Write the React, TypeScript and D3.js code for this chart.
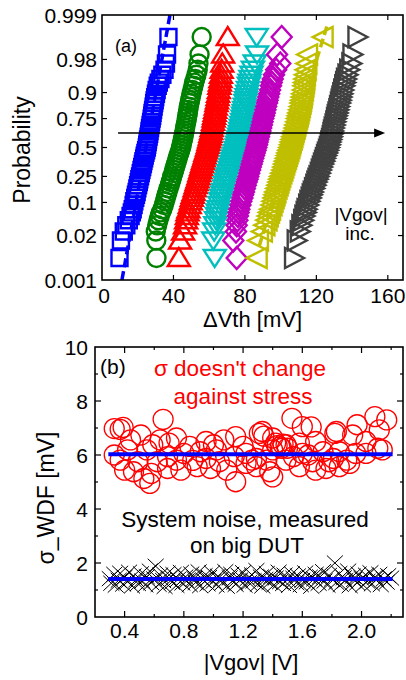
import { useEffect, useRef } from "react";
import * as d3 from "d3";

// ---------- panel (a): cumulative probability plot of dVth ----------
const probLevels = [0.005, 0.015, 0.025, 0.035, 0.045, 0.055, 0.065, 0.075, 0.09, 0.105, 0.12, 0.135, 0.15, 0.17, 0.19, 0.21, 0.23, 0.25, 0.275, 0.3, 0.325, 0.35, 0.375, 0.4, 0.425, 0.45, 0.475, 0.5, 0.525, 0.55, 0.575, 0.6, 0.625, 0.65, 0.675, 0.7, 0.725, 0.75, 0.77, 0.79, 0.81, 0.83, 0.85, 0.865, 0.88, 0.895, 0.91, 0.925, 0.935, 0.945, 0.955, 0.965, 0.975, 0.985, 0.995];

const dvthBlue = [9.8, 10.6, 12.2, 13.6, 15.0, 16.0, 16.7, 17.2, 17.7, 18.1, 18.6, 19.0, 19.4, 19.8, 20.2, 20.6, 20.9, 21.3, 21.7, 22.1, 22.5, 22.9, 23.2, 23.6, 23.9, 24.3, 24.7, 25.1, 25.3, 25.6, 25.8, 26.1, 26.4, 26.6, 26.9, 27.2, 27.5, 27.8, 28.1, 28.3, 28.6, 28.9, 29.2, 29.5, 29.8, 30.2, 30.6, 31.2, 31.8, 32.7, 33.8, 35.0, 35.8, 36.4, 37.2];
const dvthGreen = [30.5, 30.4, 30.1, 30.9, 31.6, 32.3, 33.0, 33.8, 34.6, 35.2, 35.7, 36.2, 36.7, 37.3, 37.9, 38.4, 38.9, 39.3, 39.9, 40.4, 40.9, 41.4, 41.9, 42.4, 42.8, 43.3, 43.8, 44.3, 44.6, 44.9, 45.3, 45.6, 45.9, 46.2, 46.5, 46.8, 47.2, 47.5, 47.8, 48.0, 48.3, 48.6, 49.0, 49.3, 49.7, 50.1, 50.6, 51.2, 51.6, 52.2, 52.9, 53.6, 54.0, 54.6, 55.8];
const dvthRed = [43.0, 43.7, 45.4, 46.5, 47.1, 47.5, 47.9, 48.4, 49.1, 49.7, 50.3, 50.8, 51.3, 51.9, 52.5, 53.0, 53.5, 54.0, 54.5, 55.0, 55.5, 56.0, 56.5, 57.0, 57.5, 57.9, 58.4, 58.8, 59.3, 59.6, 60.0, 60.4, 60.7, 61.1, 61.4, 61.8, 62.2, 62.5, 62.8, 63.1, 63.4, 63.7, 64.1, 64.4, 64.7, 65.0, 65.4, 65.7, 66.0, 66.3, 66.6, 67.0, 67.3, 67.8, 70.4];
const dvthCyan = [63.1, 62.3, 62.8, 63.4, 63.9, 64.3, 64.7, 65.2, 65.8, 66.4, 66.9, 67.4, 67.8, 68.4, 68.9, 69.4, 69.9, 70.3, 70.8, 71.4, 71.9, 72.4, 72.9, 73.4, 73.9, 74.4, 74.9, 75.4, 75.7, 76.1, 76.4, 76.8, 77.1, 77.4, 77.7, 78.0, 78.4, 78.7, 79.0, 79.3, 79.6, 79.9, 80.3, 80.6, 80.9, 81.3, 81.7, 82.2, 82.6, 83.1, 83.7, 84.5, 85.5, 86.8, 86.6];
const dvthMagenta = [75.4, 73.5, 75.0, 75.4, 75.8, 76.1, 76.5, 76.9, 77.5, 78.0, 78.6, 79.0, 79.5, 80.0, 80.5, 81.0, 81.5, 81.9, 82.4, 82.9, 83.3, 83.8, 84.2, 84.7, 85.1, 85.5, 86.0, 86.4, 86.8, 87.1, 87.4, 87.9, 88.3, 88.7, 89.1, 89.5, 89.9, 90.3, 90.7, 91.1, 91.5, 91.9, 92.4, 92.7, 93.1, 93.6, 94.1, 94.6, 95.0, 95.6, 96.3, 97.5, 99.8, 98.0, 100.6];
const dvthYellow = [86.6, 87.3, 89.5, 90.9, 92.1, 92.8, 93.5, 94.1, 94.9, 95.5, 96.1, 96.6, 97.1, 97.7, 98.3, 98.8, 99.3, 99.8, 100.4, 101.0, 101.5, 102.0, 102.5, 103.0, 103.5, 103.9, 104.4, 104.9, 105.3, 105.7, 106.2, 106.6, 107.0, 107.4, 107.9, 108.3, 108.8, 109.2, 109.6, 110.0, 110.4, 110.8, 111.2, 111.5, 111.8, 112.1, 112.5, 112.8, 113.1, 113.3, 113.6, 114.0, 114.4, 114.8, 123.5];
const dvthGrey = [107.5, 109.0, 110.7, 111.6, 112.6, 113.3, 114.0, 114.5, 115.4, 116.1, 116.8, 117.4, 118.0, 118.7, 119.4, 120.0, 120.6, 121.2, 121.9, 122.5, 123.1, 123.7, 124.3, 124.8, 125.4, 125.9, 126.5, 127.0, 127.5, 127.8, 128.2, 128.6, 129.0, 129.3, 129.7, 130.2, 130.6, 131.0, 131.4, 131.8, 132.3, 132.7, 133.2, 133.6, 134.0, 134.5, 135.0, 135.6, 136.1, 136.6, 137.4, 138.4, 139.6, 140.2, 143.0];

const probTicks = [0.001, 0.02, 0.1, 0.25, 0.5, 0.75, 0.9, 0.98, 0.999];
const dvthTicks = [0, 40, 80, 120, 160];

// dashed normal fits: mean, sigma, z-range drawn
const fitBlue = { mu: 24.6, sigma: 4.35, z0: -3.09, z1: 3.09 };
const fitYellow = { mu: 105, sigma: 7.4, z0: -2.3, z1: 2.82 };

const arrowProb = 0.632;
const arrowDvth = [9, 158.5];

// ---------- panel (b): sigma vs |Vgov| ----------
const sigmaPts: [number, number][] = [
  [0.33, 6.98], [0.37, 6.95], [0.39, 7.02], [0.33, 6.0], [0.37, 5.81], [0.4, 5.44], [0.42, 6.19], [0.44, 6.56],
  [0.46, 5.38], [0.49, 5.75], [0.51, 6.74], [0.53, 5.13], [0.55, 6.19], [0.57, 4.95], [0.58, 5.32], [0.59, 6.38],
  [0.62, 5.75], [0.64, 6.56], [0.66, 7.32], [0.69, 5.94], [0.69, 5.5], [0.7, 6.44], [0.75, 6.63], [0.75, 5.81],
  [0.78, 5.44], [0.8, 6.06], [0.84, 6.32], [0.86, 5.8], [0.89, 5.57], [0.91, 6.12], [0.95, 6.5], [0.95, 5.87],
  [0.98, 5.5], [1.0, 6.38], [1.02, 6.19], [1.04, 5.75], [1.07, 6.56], [1.09, 5.44], [1.14, 5.94], [1.15, 6.68],
  [1.15, 5.01], [1.2, 6.32], [1.22, 6.06], [1.22, 5.69], [1.26, 5.81], [1.29, 5.87], [1.29, 5.57], [1.31, 6.8],
  [1.33, 6.87], [1.34, 6.7], [1.36, 5.81], [1.38, 5.38], [1.4, 6.19], [1.4, 5.19], [1.4, 6.63], [1.42, 6.44],
  [1.43, 6.35], [1.45, 6.3], [1.46, 6.25], [1.47, 6.4], [1.49, 6.38], [1.49, 5.81], [1.5, 6.25], [1.53, 7.36],
  [1.54, 5.94], [1.58, 6.44], [1.58, 5.57], [1.6, 7.05], [1.6, 6.06], [1.64, 6.0], [1.66, 7.04], [1.67, 5.75],
  [1.69, 6.5], [1.69, 5.44], [1.74, 6.12], [1.76, 5.5], [1.78, 5.75], [1.81, 5.87], [1.82, 6.8], [1.83, 6.87],
  [1.85, 6.12], [1.85, 5.57], [1.9, 5.81], [1.92, 5.69], [1.94, 6.74], [1.96, 6.06], [1.97, 7.12], [2.03, 6.5],
  [2.03, 6.06], [2.09, 7.42], [2.11, 6.25], [2.12, 6.93], [2.14, 6.19], [2.17, 7.3],
];
const noisePts: [number, number][] = [
  [0.3, 1.42], [0.31, 1.25], [0.33, 1.58], [0.34, 1.18], [0.36, 1.36], [0.37, 1.62], [0.39, 1.22], [0.4, 1.47],
  [0.42, 1.31], [0.43, 1.66], [0.45, 1.15], [0.46, 1.52], [0.48, 1.38], [0.49, 1.24], [0.51, 1.6], [0.52, 1.33],
  [0.54, 1.19], [0.55, 1.49], [0.57, 1.7], [0.58, 1.27], [0.6, 1.41], [0.61, 1.88], [0.63, 1.21], [0.64, 1.55],
  [0.66, 1.35], [0.67, 1.13], [0.69, 1.62], [0.7, 1.44], [0.72, 1.29], [0.73, 1.57], [0.75, 1.17], [0.76, 1.39],
  [0.78, 1.65], [0.79, 1.26], [0.81, 1.48], [0.82, 1.34], [0.84, 1.2], [0.85, 1.59], [0.87, 1.43], [0.88, 1.28],
  [0.9, 1.67], [0.91, 1.16], [0.93, 1.37], [0.94, 1.53], [0.96, 1.23], [0.97, 1.46], [0.99, 1.63], [1.0, 1.32],
  [1.02, 1.19], [1.03, 1.51], [1.05, 1.4], [1.06, 1.26], [1.08, 1.68], [1.09, 1.14], [1.11, 1.45], [1.12, 1.58],
  [1.14, 1.3], [1.15, 1.21], [1.17, 1.54], [1.18, 1.37], [1.2, 1.64], [1.21, 1.18], [1.23, 1.42], [1.24, 1.27],
  [1.26, 1.56], [1.27, 1.34], [1.29, 1.72], [1.3, 1.22], [1.32, 1.48], [1.33, 1.15], [1.35, 1.39], [1.36, 1.61],
  [1.38, 1.29], [1.39, 1.5], [1.41, 1.19], [1.42, 1.44], [1.44, 1.66], [1.45, 1.31], [1.47, 1.24], [1.48, 1.55],
  [1.5, 1.38], [1.51, 1.17], [1.53, 1.6], [1.54, 1.43], [1.56, 1.27], [1.57, 1.52], [1.59, 1.2], [1.6, 1.36],
  [1.62, 1.63], [1.63, 1.3], [1.65, 1.47], [1.66, 1.14], [1.68, 1.41], [1.69, 1.58], [1.71, 1.25], [1.72, 1.49],
  [1.74, 1.68], [1.75, 1.33], [1.77, 1.18], [1.78, 1.54], [1.8, 1.4], [1.82, 2.0], [1.83, 1.28], [1.85, 1.61],
  [1.86, 1.21], [1.88, 1.45], [1.89, 1.35], [1.91, 1.7], [1.92, 1.16], [1.94, 1.51], [1.95, 1.39], [1.97, 1.26],
  [1.98, 1.59], [2.0, 1.43], [2.01, 1.19], [2.03, 1.55], [2.04, 1.32], [2.06, 1.64], [2.07, 1.23], [2.09, 1.47],
  [2.1, 1.37], [2.12, 1.58], [2.13, 1.2], [2.15, 1.41], [2.17, 1.29], [2.18, 1.53], [2.2, 1.44],
];
const sigmaMean = 6.03;
const noiseMean = 1.41;
const meanVgov = [0.29, 2.21];

const vgovTicks = [0.4, 0.8, 1.2, 1.6, 2.0];
const vgovMinor = [0.6, 1.0, 1.4, 1.8, 2.2];
const sigmaTicks = [0, 2, 4, 6, 8, 10];
const sigmaMinor = [1, 3, 5, 7, 9];

const series = [
  { values: dvthBlue, color: "#0000ff", marker: "square" },
  { values: dvthGreen, color: "#008000", marker: "circle" },
  { values: dvthRed, color: "#ff0000", marker: "up" },
  { values: dvthCyan, color: "#00bfbf", marker: "down" },
  { values: dvthMagenta, color: "#bf00bf", marker: "diamond" },
  { values: dvthYellow, color: "#bfbf00", marker: "left" },
  { values: dvthGrey, color: "#404040", marker: "right" },
];

const markerPath: Record<string, string> = {
  square: "M-8,-8H8V8H-8Z",
  circle: "M9,0A9,9 0 1,1 -9,0A9,9 0 1,1 9,0Z",
  up: "M0,-10L11,8L-11,8Z",
  down: "M0,9L11,-8L-11,-8Z",
  diamond: "M0,-11L10,0L0,11L-10,0Z",
  left: "M-10,0L10,-10L10,10Z",
  right: "M10,0L-9,-10L-9,10Z",
};

// inverse normal CDF (Acklam)
function probit(p: number) {
  const a = [-39.69683028665376, 220.9460984245205, -275.9285104469687, 138.357751867269, -30.66479806614716, 2.506628277459239];
  const b = [-54.47609879822406, 161.5858368580409, -155.6989798598866, 66.80131188771972, -13.28068155288572];
  const c = [-0.007784894002430293, -0.3223964580411365, -2.400758277161838, -2.549671348086381, 4.374664141464968, 2.938163982698783];
  const d = [0.007784695709041462, 0.3224671290700398, 2.445134137142996, 3.754408661907416];
  const lo = 0.02425;
  if (p < lo) {
    const q = Math.sqrt(-2 * Math.log(p));
    return (((((c[0] * q + c[1]) * q + c[2]) * q + c[3]) * q + c[4]) * q + c[5]) / ((((d[0] * q + d[1]) * q + d[2]) * q + d[3]) * q + 1);
  }
  if (p > 1 - lo) {
    const q = Math.sqrt(-2 * Math.log(1 - p));
    return -(((((c[0] * q + c[1]) * q + c[2]) * q + c[3]) * q + c[4]) * q + c[5]) / ((((d[0] * q + d[1]) * q + d[2]) * q + d[3]) * q + 1);
  }
  const q = p - 0.5, r = q * q;
  return (((((a[0] * r + a[1]) * r + a[2]) * r + a[3]) * r + a[4]) * r + a[5]) * q / (((((b[0] * r + b[1]) * r + b[2]) * r + b[3]) * r + b[4]) * r + 1);
}

const FONT = "'Liberation Sans', Arial, sans-serif";

const App = () => {
  const svgRef = useRef<SVGSVGElement>(null);

  useEffect(() => {
    if (!svgRef.current) return;
    document.body.style.margin = "0";
    const svg = d3.select(svgRef.current);
    svg.selectAll("*").remove();
    svg.attr("font-family", FONT);

    // ================= (a) =================
    const A = { l: 102, r: 403, t: 15, b: 280 };
    const x = d3.scaleLinear().domain([0, 168.5]).range([A.l, A.r]);
    const z = d3.scaleLinear().domain([probit(0.001), probit(0.999)]).range([A.b, A.t]);
    const yP = (p: number) => z(probit(p));

    svg.append("clipPath").attr("id", "clipA").append("rect")
      .attr("x", A.l).attr("y", A.t).attr("width", A.r - A.l).attr("height", A.b - A.t);

    const ga = svg.append("g").attr("clip-path", "url(#clipA)");
    series.forEach(s => {
      ga.append("g").selectAll("path")
        .data(s.values)
        .join("path")
        .attr("d", markerPath[s.marker])
        .attr("transform", (v, i) => `translate(${x(v)},${yP(probLevels[i])})`)
        .attr("fill", "none")
        .attr("stroke", s.color)
        .attr("stroke-width", 2.4);
    });

    [{ f: fitBlue, c: "#0000ff" }, { f: fitYellow, c: "#bfbf00" }].forEach(({ f, c }) => {
      ga.append("line")
        .attr("x1", x(f.mu + f.sigma * f.z0)).attr("y1", z(f.z0))
        .attr("x2", x(f.mu + f.sigma * f.z1)).attr("y2", z(f.z1))
        .attr("stroke", c).attr("stroke-width", 3.5).attr("stroke-dasharray", "9,4");
    });

    // arrow
    const ay = yP(arrowProb);
    svg.append("line")
      .attr("x1", x(arrowDvth[0])).attr("x2", x(arrowDvth[1]) - 8)
      .attr("y1", ay).attr("y2", ay)
      .attr("stroke", "#000").attr("stroke-width", 1.5);
    const tip = x(arrowDvth[1]);
    svg.append("path")
      .attr("d", `M${tip},${ay}L${tip - 11},${ay - 4.5}L${tip - 11},${ay + 4.5}Z`)
      .attr("fill", "#000");

    // frame + ticks
    svg.append("rect")
      .attr("x", A.l).attr("y", A.t).attr("width", A.r - A.l).attr("height", A.b - A.t)
      .attr("fill", "none").attr("stroke", "#000").attr("stroke-width", 1.6);

    probTicks.slice(1, -1).forEach(p => {
      svg.append("line").attr("x1", A.l).attr("x2", A.l + 5).attr("y1", yP(p)).attr("y2", yP(p)).attr("stroke", "#000").attr("stroke-width", 1.2);
      svg.append("line").attr("x1", A.r - 5).attr("x2", A.r).attr("y1", yP(p)).attr("y2", yP(p)).attr("stroke", "#000").attr("stroke-width", 1.2);
    });
    dvthTicks.slice(1).forEach(v => {
      svg.append("line").attr("x1", x(v)).attr("x2", x(v)).attr("y1", A.b).attr("y2", A.b - 5).attr("stroke", "#000").attr("stroke-width", 1.2);
      svg.append("line").attr("x1", x(v)).attr("x2", x(v)).attr("y1", A.t).attr("y2", A.t + 5).attr("stroke", "#000").attr("stroke-width", 1.2);
    });

    svg.append("g").selectAll("text")
      .data(probTicks)
      .join("text")
      .attr("x", A.l - 5)
      .attr("y", d => yP(d))
      .attr("dy", "0.36em")
      .attr("text-anchor", "end")
      .attr("font-size", "21px")
      .text(d => String(d));

    svg.append("g").selectAll("text")
      .data(dvthTicks)
      .join("text")
      .attr("x", d => x(d) + (d === 0 ? 2 : 0))
      .attr("y", A.b + 23)
      .attr("text-anchor", "middle")
      .attr("font-size", "21px")
      .text(d => String(d));

    svg.append("text")
      .attr("x", (A.l + A.r) / 2).attr("y", 327)
      .attr("text-anchor", "middle").attr("font-size", "22px")
      .text("\u0394Vth [mV]");

    svg.append("text")
      .attr("transform", "translate(30,150) rotate(-90)")
      .attr("text-anchor", "middle").attr("font-size", "23px")
      .text("Probability");

    svg.append("text").attr("x", 115).attr("y", 52).attr("font-size", "18px").text("(a)");
    svg.append("text").attr("x", 361).attr("y", 221).attr("text-anchor", "middle").attr("font-size", "19px").text("|Vgov|");
    svg.append("text").attr("x", 360).attr("y", 240).attr("text-anchor", "middle").attr("font-size", "19px").text("inc.");

    // ================= (b) =================
    const B = { l: 95, r: 403, t: 347, b: 617 };
    const xb = d3.scaleLinear().domain([0.2, 2.28]).range([B.l, B.r]);
    const yb = d3.scaleLinear().domain([0, 10]).range([B.b, B.t]);

    svg.append("g").selectAll("path")
      .data(noisePts)
      .join("path")
      .attr("d", "M-8,-7.5L8,7.5M-8,7.5L8,-7.5")
      .attr("transform", d => `translate(${xb(d[0])},${yb(d[1])})`)
      .attr("stroke", "#000")
      .attr("stroke-width", 1)
      .attr("fill", "none");

    svg.append("g").selectAll("circle")
      .data(sigmaPts)
      .join("circle")
      .attr("cx", d => xb(d[0]))
      .attr("cy", d => yb(d[1]))
      .attr("r", 10)
      .attr("fill", "none")
      .attr("stroke", "#ff0000")
      .attr("stroke-width", 1.3);

    [sigmaMean, noiseMean].forEach(m => {
      svg.append("line")
        .attr("x1", xb(meanVgov[0])).attr("x2", xb(meanVgov[1]))
        .attr("y1", yb(m)).attr("y2", yb(m))
        .attr("stroke", "#0000ff").attr("stroke-width", 4);
    });

    svg.append("rect")
      .attr("x", B.l).attr("y", B.t).attr("width", B.r - B.l).attr("height", B.b - B.t)
      .attr("fill", "none").attr("stroke", "#000").attr("stroke-width", 1.6);

    const tick = (x1: number, y1: number, x2: number, y2: number) =>
      svg.append("line").attr("x1", x1).attr("y1", y1).attr("x2", x2).attr("y2", y2).attr("stroke", "#000").attr("stroke-width", 1.2);

    vgovTicks.forEach(v => { tick(xb(v), B.b, xb(v), B.b - 6); tick(xb(v), B.t, xb(v), B.t + 6); });
    vgovMinor.forEach(v => { tick(xb(v), B.b, xb(v), B.b - 3); tick(xb(v), B.t, xb(v), B.t + 3); });
    sigmaTicks.slice(1, -1).forEach(v => { tick(B.l, yb(v), B.l + 6, yb(v)); tick(B.r - 6, yb(v), B.r, yb(v)); });
    sigmaMinor.forEach(v => { tick(B.l, yb(v), B.l + 3, yb(v)); tick(B.r - 3, yb(v), B.r, yb(v)); });

    svg.append("g").selectAll("text")
      .data(sigmaTicks)
      .join("text")
      .attr("x", B.l - 7)
      .attr("y", d => yb(d))
      .attr("dy", "0.36em")
      .attr("text-anchor", "end")
      .attr("font-size", "21px")
      .text(d => String(d));

    svg.append("g").selectAll("text")
      .data(vgovTicks)
      .join("text")
      .attr("x", d => xb(d))
      .attr("y", B.b + 21)
      .attr("text-anchor", "middle")
      .attr("font-size", "21px")
      .text(d => d.toFixed(1));

    svg.append("text")
      .attr("x", 251).attr("y", 670)
      .attr("text-anchor", "middle").attr("font-size", "22px")
      .text("|Vgov| [V]");

    svg.append("text")
      .attr("transform", "translate(54,498) rotate(-90)")
      .attr("text-anchor", "middle").attr("font-size", "23px")
      .text("\u03c3_WDF [mV]");

    svg.append("text").attr("x", 100).attr("y", 374).attr("font-size", "21px").text("(b)");
    svg.append("text").attr("x", 240).attr("y", 376).attr("text-anchor", "middle").attr("font-size", "22.5px").attr("fill", "#ff0000").text("\u03c3 doesn't change");
    svg.append("text").attr("x", 243).attr("y", 404).attr("text-anchor", "middle").attr("font-size", "22.5px").attr("fill", "#ff0000").text("against stress");
    svg.append("text").attr("x", 245).attr("y", 527).attr("text-anchor", "middle").attr("font-size", "22.5px").text("System noise, measured");
    svg.append("text").attr("x", 247).attr("y", 553).attr("text-anchor", "middle").attr("font-size", "22.5px").text("on big DUT");
  }, []);

  return <svg ref={svgRef} width={406} height={680} style={{ display: "block" }} />;
};

export default App;
